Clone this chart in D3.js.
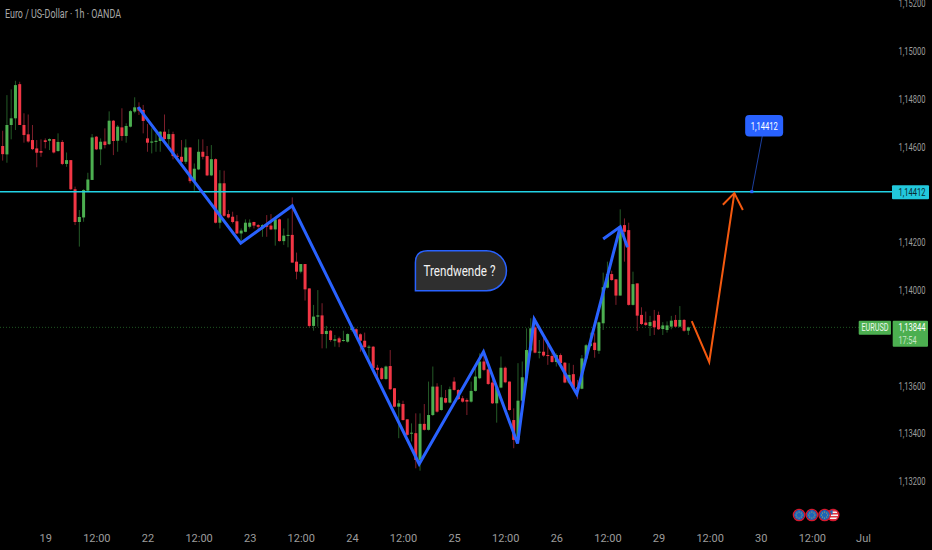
<!DOCTYPE html>
<html>
<head>
<meta charset="utf-8">
<script src="https://cdn.jsdelivr.net/npm/d3@7"></script>
<style>
html, body { margin: 0; padding: 0; background: #000; }
svg { display: block; }
text { font-family: "Liberation Sans Narrow", "Roboto", sans-serif; }
</style>
</head>
<body>
<svg id="chart" width="932" height="550"></svg>
<script>
// EURUSD 1h
const opens = [
1.14603,1.14568,1.14691,1.14719,1.14862,1.14691,1.14652,1.14628,1.14593,1.14582,
1.14627,1.14625,1.14632,1.14582,1.14620,1.14528,1.14544,1.14422,1.14285,1.14304,
1.14416,1.14461,1.14642,1.14589,1.14622,1.14611,1.14709,1.14625,1.14681,1.14645,
1.14684,1.14747,1.14766,1.14754,1.14635,1.14617,1.14620,1.14624,1.14663,1.14632,
1.14653,1.14562,1.14558,1.14537,1.14597,1.14454,1.14505,1.14579,1.14561,1.14480,
1.14548,1.14282,1.14447,1.14318,1.14307,1.14288,1.14237,1.14244,1.14265,1.14285,
1.14272,1.14258,1.14272,1.14270,1.14254,1.14296,1.14205,1.14228,1.14231,1.14119,
1.14077,1.14109,1.14007,1.13850,1.13889,1.13894,1.13816,1.13830,1.13788,1.13798,
1.13788,1.13784,1.13833,1.13836,1.13815,1.13788,1.13761,1.13763,1.13675,1.13673,
1.13628,1.13682,1.13589,1.13512,1.13523,1.13459,1.13401,1.13401,1.13289,1.13440,
1.13415,1.13477,1.13596,1.13498,1.13548,1.13529,1.13617,1.13582,1.13547,1.13540,
1.13533,1.13578,1.13631,1.13701,1.13668,1.13613,1.13526,1.13592,1.13675,1.13617,
1.13456,1.13373,1.13537,1.13634,1.13747,1.13844,1.13740,1.13742,1.13728,1.13724,
1.13699,1.13728,1.13696,1.13613,1.13648,1.13593,1.13587,1.13714,1.13766,1.13780,
1.13746,1.13861,1.14010,1.14067,1.14045,1.13977,1.14272,1.14251,1.13938,1.14028,
1.13896,1.13864,1.13850,1.13872,1.13896,1.13837,1.13833,1.13847,1.13875,1.13847,
1.13875,1.13830];
const highs = [
1.14667,1.14816,1.14840,1.14876,1.14872,1.14740,1.14735,1.14691,1.14628,1.14631,
1.14635,1.14635,1.14632,1.14656,1.14628,1.14576,1.14544,1.14433,1.14335,1.14422,
1.14491,1.14653,1.14645,1.14635,1.14677,1.14748,1.14712,1.14691,1.14761,1.14698,
1.14754,1.14807,1.14786,1.14775,1.14695,1.14677,1.14656,1.14666,1.14735,1.14673,
1.14663,1.14572,1.14628,1.14631,1.14597,1.14530,1.14631,1.14631,1.14603,1.14607,
1.14551,1.14502,1.14500,1.14335,1.14328,1.14314,1.14258,1.14296,1.14296,1.14286,
1.14276,1.14276,1.14314,1.14318,1.14300,1.14299,1.14258,1.14300,1.14388,1.14157,
1.14109,1.14109,1.14007,1.13938,1.14000,1.13945,1.13850,1.13833,1.13812,1.13805,
1.13830,1.13819,1.13850,1.13840,1.13819,1.13822,1.13770,1.13766,1.13687,1.13677,
1.13684,1.13749,1.13589,1.13540,1.13537,1.13459,1.13442,1.13484,1.13484,1.13523,
1.13617,1.13680,1.13610,1.13603,1.13582,1.13596,1.13635,1.13585,1.13557,1.13547,
1.13617,1.13673,1.13735,1.13735,1.13673,1.13652,1.13596,1.13722,1.13680,1.13617,
1.13505,1.13694,1.13701,1.13840,1.13882,1.13882,1.13791,1.13805,1.13791,1.13749,
1.13735,1.13735,1.13699,1.13694,1.13687,1.13624,1.13728,1.13774,1.13822,1.13819,
1.13868,1.14073,1.14119,1.14081,1.14045,1.14338,1.14300,1.14282,1.14077,1.14028,
1.13928,1.13910,1.13892,1.13917,1.13910,1.13866,1.13869,1.13892,1.13896,1.13933,
1.13879,1.13847];
const lows = [
1.14542,1.14533,1.14631,1.14670,1.14691,1.14617,1.14617,1.14586,1.14514,1.14558,
1.14593,1.14586,1.14572,1.14579,1.14523,1.14516,1.14419,1.14272,1.14182,1.14286,
1.14412,1.14461,1.14586,1.14523,1.14593,1.14607,1.14565,1.14579,1.14625,1.14617,
1.14681,1.14740,1.14733,1.14656,1.14579,1.14572,1.14579,1.14579,1.14621,1.14600,
1.14547,1.14555,1.14530,1.14528,1.14447,1.14416,1.14502,1.14547,1.14477,1.14477,
1.14279,1.14258,1.14307,1.14300,1.14279,1.14235,1.14203,1.14242,1.14258,1.14258,
1.14254,1.14223,1.14223,1.14251,1.14186,1.14203,1.14189,1.14179,1.14115,1.14045,
1.14070,1.13956,1.13844,1.13830,1.13847,1.13756,1.13756,1.13784,1.13763,1.13761,
1.13784,1.13780,1.13826,1.13805,1.13742,1.13756,1.13694,1.13670,1.13631,1.13624,
1.13624,1.13582,1.13509,1.13380,1.13454,1.13390,1.13366,1.13254,1.13244,1.13412,
1.13412,1.13473,1.13487,1.13495,1.13526,1.13526,1.13579,1.13540,1.13529,1.13477,
1.13529,1.13575,1.13627,1.13661,1.13603,1.13523,1.13445,1.13589,1.13610,1.13495,
1.13338,1.13370,1.13533,1.13631,1.13742,1.13735,1.13714,1.13721,1.13687,1.13696,
1.13680,1.13691,1.13610,1.13607,1.13589,1.13543,1.13585,1.13710,1.13763,1.13717,
1.13733,1.13833,1.14007,1.14039,1.13938,1.13977,1.14119,1.13935,1.13935,1.13829,
1.13854,1.13850,1.13808,1.13812,1.13833,1.13812,1.13822,1.13836,1.13844,1.13844,
1.13826,1.13812];
const closes = [
1.14569,1.14691,1.14719,1.14858,1.14691,1.14649,1.14622,1.14590,1.14575,1.14575,
1.14620,1.14632,1.14576,1.14620,1.14528,1.14544,1.14422,1.14285,1.14306,1.14419,
1.14463,1.14639,1.14589,1.14621,1.14607,1.14709,1.14624,1.14684,1.14645,1.14687,
1.14749,1.14765,1.14751,1.14708,1.14617,1.14622,1.14625,1.14663,1.14632,1.14653,
1.14561,1.14558,1.14537,1.14597,1.14456,1.14508,1.14579,1.14558,1.14480,1.14548,
1.14282,1.14447,1.14311,1.14304,1.14285,1.14237,1.14249,1.14282,1.14282,1.14270,
1.14265,1.14272,1.14265,1.14254,1.14296,1.14205,1.14228,1.14231,1.14115,1.14077,
1.14109,1.14003,1.13850,1.13889,1.13894,1.13816,1.13829,1.13791,1.13794,1.13781,
1.13791,1.13816,1.13844,1.13809,1.13788,1.13761,1.13763,1.13673,1.13666,1.13628,
1.13680,1.13585,1.13512,1.13526,1.13456,1.13394,1.13403,1.13289,1.13440,1.13415,
1.13477,1.13596,1.13491,1.13551,1.13529,1.13585,1.13582,1.13544,1.13533,1.13533,
1.13578,1.13638,1.13701,1.13666,1.13607,1.13526,1.13593,1.13675,1.13614,1.13498,
1.13373,1.13537,1.13635,1.13749,1.13840,1.13738,1.13742,1.13726,1.13726,1.13699,
1.13728,1.13694,1.13613,1.13645,1.13593,1.13585,1.13714,1.13769,1.13777,1.13749,
1.13865,1.14012,1.14067,1.14042,1.13977,1.14265,1.14244,1.13938,1.14025,1.13893,
1.13858,1.13854,1.13866,1.13844,1.13836,1.13852,1.13852,1.13872,1.13847,1.13875,
1.13830,1.13844];

const priceTicks = [1.152, 1.150, 1.148, 1.146, 1.142, 1.140, 1.136, 1.134, 1.132];
const timeTickBars = [10, 22, 34, 46, 58, 70, 82, 94, 106, 118, 130, 142, 154, 166, 178, 190, 202];
const timeTickLabels = ['19', '12:00', '22', '12:00', '23', '12:00', '24', '12:00', '25', '12:00', '26', '12:00', '29', '12:00', '30', '12:00', 'Jul'];

const levelPrice = 1.14412;
const lastPrice = 1.13844;
const countdown = '17:54';

// drawings as [bar, price]
const wavePath = [[31.8, 1.14766], [55.9, 1.14196], [68, 1.14353], [97.8, 1.13272], [112.9, 1.13742], [120.9, 1.13358], [124.8, 1.13878], [134.8, 1.13565], [145, 1.14265]];
const waveHead = [[141, 1.14214], [145, 1.14265], [146.7, 1.14179]];
const forecastPath = [[161.8, 1.13870], [165.9, 1.13699], [171.8, 1.14406]];
const forecastHead = [[169.1, 1.14357], [171.8, 1.14406], [173.8, 1.14335]];
const calloutAnchor = [175.9, 1.14412];
const calloutBox = [178.8, 1.14687];
const noteBox = [107.6, 1.14081];

// economic calendar marks, US behind the three EU ones
const eventBars = [195, 193, 190, 187];
const eventKinds = ['us', 'eu', 'eu', 'eu'];

const svg = d3.select('#chart');
svg.append('rect').attr('width', 932).attr('height', 550).attr('fill', '#000');

const x = d3.scaleLinear().domain([0, 161]).range([2.67, 688.35]);
const y = d3.scaleLinear().domain([1.132, 1.152]).range([481.2, 3.4]);
const priceFmt = v => d3.format('.5f')(v).replace('.', ',');

const bars = d3.range(opens.length).map(i => ({ i, o: opens[i], h: highs[i], l: lows[i], c: closes[i] }));
const UP = '#4caf50', DOWN = '#f23645';

// last price dotted line sits under the candles
svg.append('line')
    .attr('x1', 0).attr('x2', 859)
    .attr('y1', y(lastPrice)).attr('y2', y(lastPrice))
    .attr('stroke', '#1f5522').attr('stroke-width', 1).attr('stroke-dasharray', '1 2');

svg.append('g').selectAll('line').data(bars).enter().append('line')
    .attr('x1', d => x(d.i)).attr('x2', d => x(d.i))
    .attr('y1', d => y(d.h)).attr('y2', d => y(d.l))
    .attr('stroke', d => d.c >= d.o ? '#245a27' : '#7d1f2b')
    .attr('stroke-width', 1);

svg.append('g').selectAll('rect').data(bars).enter().append('rect')
    .attr('x', d => x(d.i) - 1.5)
    .attr('width', 3)
    .attr('y', d => y(Math.max(d.o, d.c)))
    .attr('height', d => Math.max(1, Math.abs(y(d.o) - y(d.c))))
    .attr('fill', d => d.c >= d.o ? UP : DOWN);

// level line
svg.append('line')
    .attr('x1', 0).attr('x2', 892)
    .attr('y1', y(levelPrice)).attr('y2', y(levelPrice))
    .attr('stroke', '#22d3e6').attr('stroke-width', 1.5);

const line = d3.line().x(d => x(d[0])).y(d => y(d[1]));

function drawPath(points, color, width) {
    svg.append('path')
        .attr('d', line(points))
        .attr('fill', 'none')
        .attr('stroke', color)
        .attr('stroke-width', width)
        .attr('stroke-linejoin', 'miter');
}

drawPath(wavePath, '#2962ff', 3);
drawPath(waveHead, '#2962ff', 3);
drawPath(forecastPath, '#f4590f', 2);
drawPath(forecastHead, '#f4590f', 2);

// "Trendwende ?" note
const noteX = x(noteBox[0]), noteY = y(noteBox[1]);
const nw = 91, nh = 40;
const nl = noteX - nw / 2, nt = noteY - nh / 2;
const noteShape = d3.path();
noteShape.moveTo(nl, nt + 12);
noteShape.quadraticCurveTo(nl, nt, nl + 12, nt);
noteShape.lineTo(nl + nw - 20, nt);
noteShape.arcTo(nl + nw, nt, nl + nw, nt + 20, 20);
noteShape.arcTo(nl + nw, nt + nh, nl + nw - 20, nt + nh, 20);
noteShape.lineTo(nl, nt + nh);
noteShape.closePath();
svg.append('path').attr('d', noteShape.toString())
    .attr('fill', '#2f2f2f').attr('stroke', '#2962ff').attr('stroke-width', 1.5);
svg.append('text').attr('x', nl + 8).attr('y', noteY + 5)
    .attr('fill', '#f2f2f2').attr('font-size', 15)
    .attr('textLength', 72).attr('lengthAdjust', 'spacingAndGlyphs')
    .text('Trendwende ?');

// blue price callout
const cbx = x(calloutBox[0]), cby = y(calloutBox[1]);
svg.append('line')
    .attr('x1', cbx).attr('y1', cby)
    .attr('x2', x(calloutAnchor[0])).attr('y2', y(calloutAnchor[1]))
    .attr('stroke', '#1c3f9e').attr('stroke-width', 1);
svg.append('rect')
    .attr('x', x(calloutAnchor[0]) - 1.5).attr('y', y(calloutAnchor[1]) - 1.5)
    .attr('width', 3).attr('height', 3).attr('fill', '#2962ff');
svg.append('rect')
    .attr('x', cbx - 19).attr('y', cby - 11)
    .attr('width', 38).attr('height', 21.5).attr('rx', 4)
    .attr('fill', '#2962ff');
svg.append('text').attr('x', cbx).attr('y', cby + 4)
    .attr('text-anchor', 'middle').attr('fill', '#fff').attr('font-size', 11)
    .attr('textLength', 27).attr('lengthAdjust', 'spacingAndGlyphs')
    .text(priceFmt(levelPrice));

// calendar marks
const euStarAngles = d3.range(0, 360, 45);
svg.append('clipPath').attr('id', 'usClip').append('circle').attr('r', 5.2);
eventBars.forEach((b, n) => {
    const g = svg.append('g').attr('transform', `translate(${x(b)},515)`);
    if (eventKinds[n] === 'us') {
        const f = g.append('g').attr('clip-path', 'url(#usClip)');
        f.append('rect').attr('x', -6).attr('y', -6).attr('width', 12).attr('height', 12).attr('fill', '#f5f5f5');
        d3.range(-5, 6, 3).forEach(s => {
            f.append('rect').attr('x', -6).attr('y', s).attr('width', 12).attr('height', 1.5).attr('fill', '#e0333f');
        });
        f.append('rect').attr('x', -6).attr('y', -6).attr('width', 5.5).attr('height', 5.5).attr('fill', '#2b5fae');
    } else {
        g.append('circle').attr('r', 5.2).attr('fill', '#1c64b8');
        euStarAngles.forEach(a => {
            g.append('circle')
                .attr('cx', 3 * Math.cos(a * Math.PI / 180))
                .attr('cy', 3 * Math.sin(a * Math.PI / 180))
                .attr('r', 0.5).attr('fill', '#e8c531');
        });
    }
    g.append('circle').attr('r', 5.7).attr('fill', 'none').attr('stroke', '#d5192f').attr('stroke-width', 1.3);
});

// axes
const yAxis = d3.axisRight(y).tickValues(priceTicks).tickSize(0).tickPadding(0).tickFormat(priceFmt);
const yg = svg.append('g').attr('transform', 'translate(925.5,0)').call(yAxis);
const xAxis = d3.axisBottom(x).tickValues(timeTickBars).tickSize(0).tickPadding(0)
    .tickFormat((d, i) => timeTickLabels[i]);
const xg = svg.append('g').attr('transform', 'translate(0,534)').call(xAxis);
[yg, xg].forEach(g => {
    g.select('.domain').remove();
    g.selectAll('text').attr('fill', '#9c9c9c').style('font-size', '11px').style('font-family', '"Liberation Sans Narrow", Roboto, sans-serif');
});
yg.selectAll('text').attr('text-anchor', 'end').attr('textLength', 27).attr('lengthAdjust', 'spacingAndGlyphs');

// right axis tags
function tag(xp, yp, w, h, fill) {
    svg.append('rect').attr('x', xp).attr('y', yp).attr('width', w).attr('height', h).attr('rx', 1).attr('fill', fill);
}
function tagText(str, xEnd, yp, color, len) {
    svg.append('text').attr('x', xEnd).attr('y', yp).attr('fill', color).attr('font-size', 11)
        .attr('text-anchor', 'end')
        .attr('textLength', len).attr('lengthAdjust', 'spacingAndGlyphs')
        .text(str);
}
tag(892, y(levelPrice) - 6.5, 37, 14, '#22c8dc');
tagText(priceFmt(levelPrice), 925.5, y(levelPrice) + 4, '#0b2a30', 27);

tag(858.7, y(lastPrice) - 6.5, 32.3, 14, UP);
tagText('EURUSD', 888.5, y(lastPrice) + 4, '#ecf7ec', 27);
tag(892.7, y(lastPrice) - 6.5, 35.3, 26, UP);
tagText(priceFmt(lastPrice), 925.5, y(lastPrice) + 4, '#ffffff', 27);
tagText(countdown, 916.5, y(lastPrice) + 17, '#c6e6c7', 18);

// header
svg.append('text').attr('x', 5).attr('y', 18)
    .attr('fill', '#a8a8a8').attr('font-size', 12)
    .attr('textLength', 116).attr('lengthAdjust', 'spacingAndGlyphs')
    .text('Euro / US-Dollar · 1h · OANDA');
</script>
</body>
</html>
